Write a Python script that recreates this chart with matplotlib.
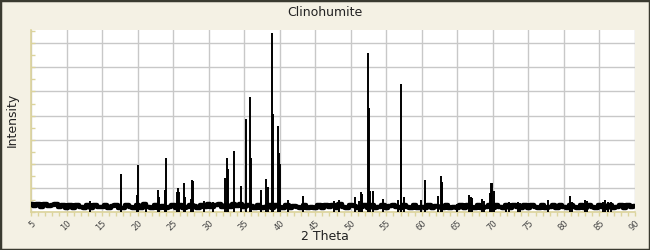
"""
Powder diffraction pattern of Clinohumite (intensity vs 2 theta).
"""

import numpy as np
import matplotlib.pyplot as plt
from matplotlib.patches import Rectangle
from matplotlib.ticker import MultipleLocator

# peak positions (2 theta) and heights
peak_pos = [13.3, 17.6, 17.7, 19.9, 20.0, 21.2, 22.9, 23.0, 23.9, 24.0,
            25.5, 25.7, 25.8, 26.6, 26.7, 27.5, 27.6, 27.8, 29.4, 30.6,
            32.3, 32.6, 32.7, 33.5, 34.5, 35.3, 35.8, 35.9, 37.3, 37.4,
            38.1, 38.3, 38.9, 39.0, 39.8, 39.9, 40.1, 41.2, 43.3, 47.6,
            48.4, 50.6, 51.1, 51.5, 51.6, 52.4, 52.5, 52.75, 53.1, 54.5,
            56.7, 57.0, 57.1, 57.5, 59.9, 60.4, 60.5, 62.25, 62.7, 62.8,
            62.9, 65.0, 66.7, 66.9, 67.1, 68.5, 68.7, 69.6, 69.8, 69.9,
            70.1, 71.8, 72.2, 73.5, 73.8, 77.8, 80.9, 81.2, 83.0, 83.3,
            85.5, 85.75, 86.2, 86.6]
peak_height = [46, 158, 87, 70, 196, 43, 92, 64, 92, 225,
               82, 99, 85, 120, 64, 55, 133, 130, 46, 43,
               140, 224, 180, 254, 108, 387, 479, 224, 64, 92,
               137, 103, 742, 408, 358, 244, 200, 50, 67, 46,
               50, 61, 47, 82, 75, 658, 432, 89, 88, 53,
               50, 533, 265, 64, 50, 133, 89, 67, 150, 126,
               118, 35, 71, 64, 60, 53, 45, 80, 119, 122,
               89, 37, 40, 43, 37, 50, 67, 42, 50, 46,
               40, 50, 43, 40]

# background level every 0.5 degree from 5 to 90
base_theta = np.arange(5, 90.5, 0.5)
base_level = [34, 24, 32, 22, 33, 25, 30, 34, 20, 28,
              17, 27, 18, 29, 20, 16, 27, 18, 28, 19,
              21, 30, 17, 26, 31, 18, 16, 28, 20, 17,
              27, 18, 32, 20, 17, 28, 18, 26, 16, 21,
              30, 18, 28, 17, 20, 31, 25, 18, 29, 20,
              32, 22, 30, 34, 21, 31, 19, 35, 24, 32,
              20, 31, 23, 18, 30, 17, 22, 31, 16, 28,
              20, 17, 30, 16, 26, 20, 15, 28, 18, 21,
              16, 27, 18, 31, 20, 28, 16, 32, 21, 17,
              29, 24, 16, 21, 31, 18, 27, 16, 20, 29,
              17, 26, 31, 20, 16, 29, 21, 17, 27, 16,
              21, 17, 29, 16, 26, 20, 17, 31, 16, 21,
              17, 27, 16, 29, 20, 17, 27, 16, 21, 31,
              17, 27, 20, 16, 30, 17, 27, 21, 16, 27,
              17, 30, 20, 16, 27, 17, 21, 30, 16, 27,
              20, 17, 31, 21, 16, 30, 17, 27, 21, 16,
              30, 20, 17, 27, 16, 21, 30, 17, 27, 20,
              24]

bg = '#f4f1e4'
tan = '#dcd49c'

fig = plt.figure(figsize=(6.5, 2.5), dpi=100, facecolor=bg)
ax = fig.add_axes([31 / 650, 38 / 250, 604 / 650, 182 / 250])
ax.set_facecolor('white')

ax.plot(base_theta, base_level, color='black', lw=3.2, drawstyle='steps-mid', zorder=3)
ax.vlines(peak_pos, 0, peak_height, color='black', lw=1.4, zorder=3)

ax.set_xlim(5, 90)
ax.set_ylim(0, 755)
ax.xaxis.set_major_locator(MultipleLocator(5))
ax.xaxis.set_minor_locator(MultipleLocator(1))
ax.yaxis.set_major_locator(MultipleLocator(100))
ax.yaxis.set_minor_locator(MultipleLocator(50))
ax.grid(True, which='major', color='#c8c8c8', lw=1)
ax.set_axisbelow(True)

for side in ['top', 'right']:
    ax.spines[side].set_visible(False)
ax.spines['left'].set_color(tan)
ax.spines['bottom'].set_color(tan)
ax.spines['left'].set_linewidth(1.2)
ax.spines['bottom'].set_linewidth(1.2)

ax.tick_params(axis='x', which='both', direction='out', color=tan, length=3, width=1,
               labelsize=6, labelcolor='#444444', pad=2)
ax.tick_params(axis='y', which='both', direction='in', color=tan, length=3, width=1,
               labelleft=False)
for lab in ax.get_xticklabels():
    lab.set_rotation(45)
    lab.set_ha('right')
    lab.set_va('top')
    lab.set_rotation_mode('anchor')

fig.text(0.5, 0.952, 'Clinohumite', ha='center', va='center', fontsize=9, color='#222222')
fig.text(0.5, 0.052, '2 Theta', ha='center', va='center', fontsize=9, color='#222222')
fig.text(0.019, 0.52, 'Intensity', ha='center', va='center', rotation=90,
         fontsize=9, color='#222222')

fig.patches.append(Rectangle((0, 0), 1, 1, transform=fig.transFigure, fill=False,
                             edgecolor='#3a3a30', lw=2.5))

fig.savefig('out.png', dpi=100, facecolor=bg)
